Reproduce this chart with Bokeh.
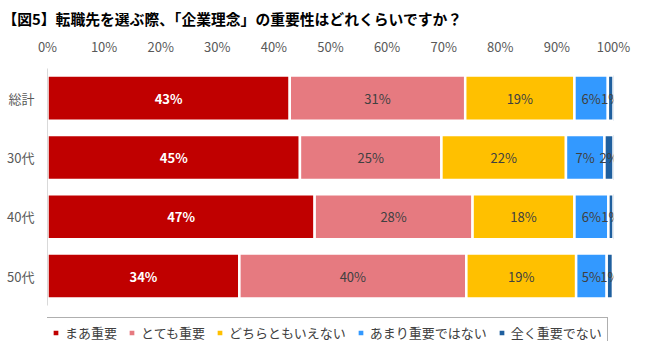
from bokeh.plotting import figure
from bokeh.models import Range1d, Legend, LegendItem, ColumnDataSource, FixedTicker
from bokeh.core.properties import value
from bokeh.embed import file_html
from bokeh.resources import INLINE

title_text = "【図5】転職先を選ぶ際、「企業理念」の重要性はどれくらいですか？"
categories = ["総計", "30代", "40代", "50代"]
series = ["まあ重要", "とても重要", "どちらともいえない", "あまり重要ではない", "全く重要でない"]
mama = [42.8, 44.6, 47.2, 33.9]
totemo = [31.0, 25.0, 27.9, 40.1]
dochira = [19.3, 22.0, 18.0, 19.4]
amari = [5.9, 6.8, 6.0, 5.4]
mattaku = [1.0, 1.6, 0.9, 1.1]
tick_values = [0, 10, 20, 30, 40, 50, 60, 70, 80, 90, 100]
tick_labels = ["0%", "10%", "20%", "30%", "40%", "50%", "60%", "70%", "80%", "90%", "100%"]

colors = ["#C00000", "#E67A80", "#FFC000", "#3399FF", "#1F5F9E"]
label_colors = ["#FFFFFF", "#404040", "#404040", "#404040", "#404040"]
label_styles = ["bold", "normal", "normal", "normal", "normal"]
FONT = "Noto Sans CJK JP"

n = len(categories)
ypos = [n - 1 - i for i in range(n)]  # first category at top

values = [mama, totemo, dochira, amari, mattaku]
keys = ["s0", "s1", "s2", "s3", "s4"]
data = {"y": ypos}
for k, v in zip(keys, values):
    data[k] = v
source = ColumnDataSource(data)

# frame extends below the last bar to hold the legend
p = figure(width=634, height=343,
           y_range=Range1d(-1.104, n - 0.5),
           x_range=Range1d(0, 100), x_axis_location="above",
           output_backend="svg", toolbar_location=None,
           min_border_left=47, min_border_right=21,
           min_border_top=68, min_border_bottom=2)

p.title.text = title_text
p.title.text_font = FONT
p.title.text_font_size = "14.8px"
p.title.text_font_style = "bold"
p.title.text_color = "#000000"
p.title.offset = -45

bars = p.hbar_stack(keys, y="y", height=0.76, color=colors, source=source,
                    line_color="white", line_width=2.5)

# segment labels
for i, (k, v) in enumerate(zip(keys, values)):
    xs, ys, txt = [], [], []
    for j in range(n):
        start = sum(values[m][j] for m in range(i))
        xs.append(start + v[j] / 2)
        ys.append(ypos[j])
        txt.append(f"{round(v[j])}%")
    p.text(x=xs, y=ys, text=txt, text_align="center", text_baseline="middle",
           text_font=value(FONT), text_font_size="13px", text_color=label_colors[i],
           text_font_style=label_styles[i])

items = [LegendItem(label=name, renderers=[r]) for name, r in zip(series, bars)]
legend = Legend(items=items, orientation="horizontal", location=(-2, -7),
                glyph_width=9, glyph_height=9, label_standoff=5, spacing=10,
                label_height=10, padding=5, margin=0,
                border_line_color="#AFAFAF", border_line_alpha=1.0, border_line_width=1,
                label_text_font=FONT, label_text_font_size="13px",
                label_text_color="#404040", background_fill_color="white",
                background_fill_alpha=1.0)
p.add_layout(legend)

p.xaxis.ticker = FixedTicker(ticks=tick_values)
p.xaxis.major_label_overrides = {t: l for t, l in zip(tick_values, tick_labels)}
p.xaxis.axis_line_color = None
p.xaxis.major_tick_line_color = None
p.xaxis.minor_tick_line_color = None
p.xaxis.major_tick_out = 0
p.xaxis.major_tick_in = 0
p.xaxis.major_label_standoff = 13
p.xaxis.major_label_text_font = FONT
p.xaxis.major_label_text_font_size = "13px"
p.xaxis.major_label_text_color = "#595959"

p.yaxis.ticker = FixedTicker(ticks=ypos)
p.yaxis.major_label_overrides = {y: c for y, c in zip(ypos, categories)}
p.yaxis.bounds = (-0.5, n - 0.5)
p.yaxis.axis_line_color = "#D9D9D9"
p.yaxis.major_tick_line_color = None
p.yaxis.minor_tick_line_color = None
p.yaxis.major_tick_out = 0
p.yaxis.major_tick_in = 0
p.yaxis.major_label_standoff = 13
p.yaxis.major_label_text_font = FONT
p.yaxis.major_label_text_font_size = "13px"
p.yaxis.major_label_text_color = "#595959"

p.xgrid.grid_line_color = None
p.ygrid.grid_line_color = None
p.outline_line_color = None

open("out.html", "w").write(file_html(p, INLINE))
